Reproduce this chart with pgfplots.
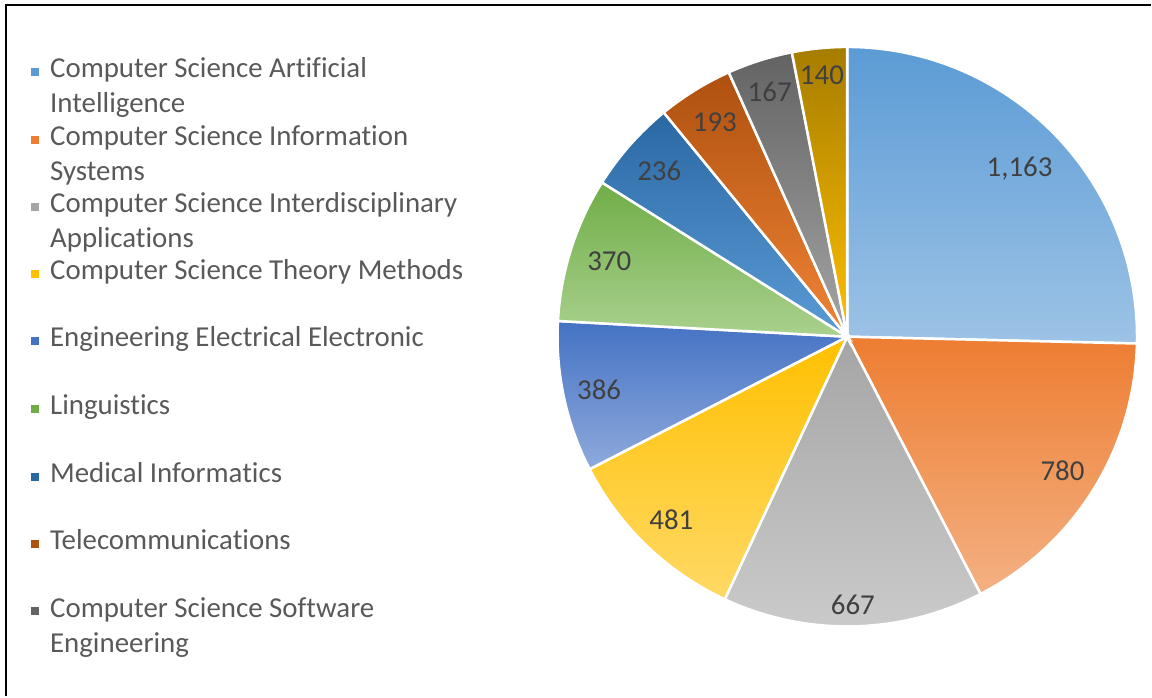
\documentclass[border=0pt]{standalone}
\usepackage{pgfplots}
\pgfplotsset{compat=1.18}
\usepackage{pgfplotstable}
\usepackage{fontspec}
\setmainfont{Carlito}[Ligatures=NoCommon]

% slice colours: top / bottom of the gradient
\definecolor{t1}{HTML}{5B9BD5}\definecolor{b1}{HTML}{9DC3E6}
\definecolor{t2}{HTML}{ED7D31}\definecolor{b2}{HTML}{F4B183}
\definecolor{t3}{HTML}{A5A5A5}\definecolor{b3}{HTML}{CACACA}
\definecolor{t4}{HTML}{FFC000}\definecolor{b4}{HTML}{FFD966}
\definecolor{t5}{HTML}{4472C4}\definecolor{b5}{HTML}{8FAADC}
\definecolor{t6}{HTML}{70AD47}\definecolor{b6}{HTML}{A9D18E}
\definecolor{t7}{HTML}{2A68A3}\definecolor{b7}{HTML}{5B9BD5}
\definecolor{t8}{HTML}{AE500F}\definecolor{b8}{HTML}{F08436}
\definecolor{t9}{HTML}{636363}\definecolor{b9}{HTML}{A5A5A5}
\definecolor{t10}{HTML}{A67C00}\definecolor{b10}{HTML}{FFC000}
\definecolor{labc}{HTML}{404040}
\definecolor{legc}{HTML}{595959}

\pgfkeys{/pgf/number format/.cd, assume math mode=true, 1000 sep={,}}

\pgfplotstableread{
value lr
1163 241
780  254
667  268
481  254
386  254
370  250
236  251
193  252
167  257
140  263
}\piedata

\tikzset{lbl/.style={font=\fontsize{29}{35}\selectfont, text=labc}}

% legend entry: baseline (px from top), colour, first line, second line
\newcommand{\legentry}[4]{%
  \fill[#2] (axis cs:31,{697-#1+2}) rectangle (axis cs:39,{697-#1+10});
  \node[anchor=base west, font=\fontsize{29}{35}\selectfont, text=legc, inner sep=0pt]
    at (axis cs:50,{697-#1}) {#3};
  \node[anchor=base west, font=\fontsize{29}{35}\selectfont, text=legc, inner sep=0pt]
    at (axis cs:50,{697-#1-35}) {#4};
}

\begin{document}
\begin{tikzpicture}
\def\total{0}
\pgfplotsforeachungrouped \i in {0,...,9}{%
  \pgfplotstablegetelem{\i}{value}\of\piedata
  \pgfmathsetmacro\total{\total+\pgfplotsretval}%
}
\begin{axis}[
    width=1152bp, height=697bp, scale only axis,
    xmin=0, xmax=1152, ymin=0, ymax=697,
    hide axis, clip=false
]
\path (axis cs:0,0) rectangle (axis cs:1152,697);

\def\startang{90}
\pgfplotsforeachungrouped \i in {0,...,9}{%
  \pgfplotstablegetelem{\i}{value}\of\piedata \let\v\pgfplotsretval
  \pgfplotstablegetelem{\i}{lr}\of\piedata \let\lr\pgfplotsretval
  \pgfmathsetmacro\endang{\startang-\v/\total*360}%
  \pgfmathsetmacro\midang{(\startang+\endang)/2}%
  \pgfmathtruncatemacro\k{\i+1}%
  \edef\temp{%
    \noexpand\addplot[draw=white, line width=2.5bp, top color=t\k, bottom color=b\k,
      domain=\endang:\startang, samples=90]
      ({848+290*cos(x)},{360+290*sin(x)}) -- (axis cs:848,360) -- cycle;
    \noexpand\node[lbl] at (axis cs:{848+\lr*cos(\midang)},{360+\lr*sin(\midang)})
      {\noexpand\pgfmathprintnumber{\v}};
  }\temp
  \let\startang\endang
}

\legentry{78}{t1}{Computer Science Artificial}{Intelligence}
\legentry{146}{t2}{Computer Science Information}{Systems}
\legentry{213}{t3}{Computer Science Interdisciplinary}{Applications}
\legentry{280}{t4}{Computer Science Theory Methods}{}
\legentry{347}{t5}{Engineering Electrical Electronic}{}
\legentry{415}{t6}{Linguistics}{}
\legentry{483}{t7}{Medical Informatics}{}
\legentry{550}{t8}{Telecommunications}{}
\legentry{618}{t9}{Computer Science Software}{Engineering}

\draw[line width=2bp] (axis cs:6,0) -- (axis cs:6,692) -- (axis cs:1152,692);
\end{axis}
\end{tikzpicture}
\end{document}
